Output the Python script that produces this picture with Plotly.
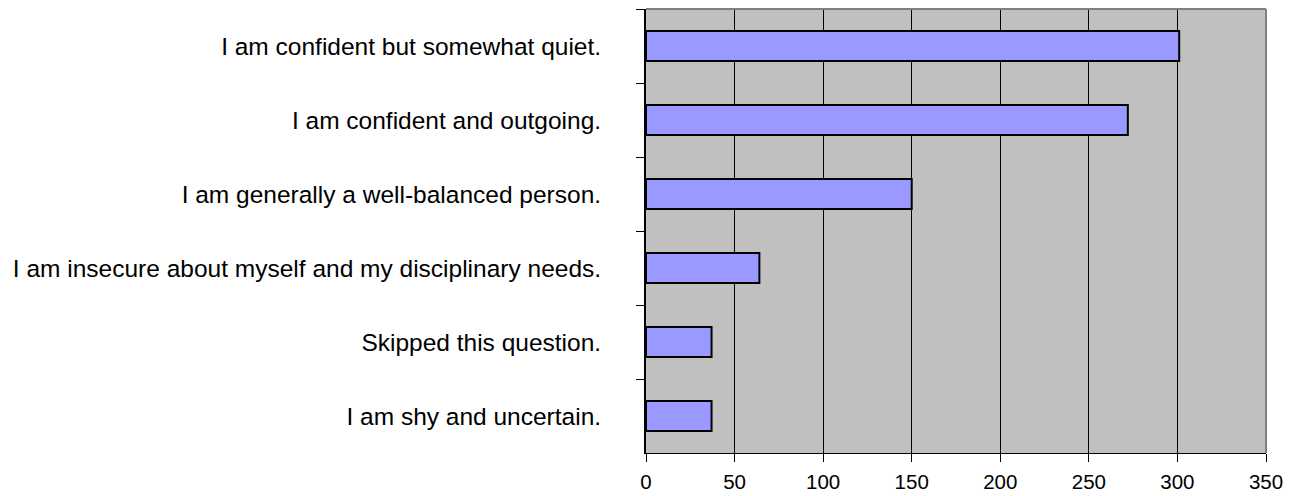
import plotly.graph_objects as go

categories = [
    "I am confident but somewhat quiet.",
    "I am confident and outgoing.",
    "I am generally a well-balanced person.",
    "I am insecure about myself and my disciplinary needs.",
    "Skipped this question.",
    "I am shy and uncertain.",
]
values = [301, 272, 150, 64, 37, 37]
x_ticks = [0, 50, 100, 150, 200, 250, 300, 350]

fig = go.Figure()
fig.add_trace(go.Bar(
    x=values,
    y=categories,
    orientation="h",
    marker=dict(color="#9999FF", line=dict(color="#000000", width=2)),
    hoverinfo="x+y",
))

yfont = dict(family="Liberation Sans, Arial, sans-serif", size=24.5, color="#000000")
xfont = dict(family="Liberation Sans, Arial, sans-serif", size=20.5, color="#000000")

fig.update_layout(
    width=1288,
    height=488,
    margin=dict(l=638, r=30, t=1, b=43, autoexpand=False),
    paper_bgcolor="#FFFFFF",
    plot_bgcolor="#C0C0C0",
    bargap=0.595,
    showlegend=False,
    font=xfont,
    xaxis=dict(
        range=[0, 350],
        tickvals=x_ticks,
        showgrid=True,
        gridcolor="#000000",
        gridwidth=1,
        zeroline=False,
        showline=True,
        linecolor="#000000",
        linewidth=1,
        ticks="outside",
        ticklen=8,
        tickcolor="#000000",
        tickfont=xfont,
        ticklabelstandoff=2,
        fixedrange=True,
    ),
    yaxis=dict(
        categoryorder="array",
        categoryarray=categories,
        autorange="reversed",
        showgrid=False,
        zeroline=False,
        showline=True,
        linecolor="#000000",
        linewidth=2,
        ticks="outside",
        tickson="boundaries",
        ticklen=8,
        tickcolor="#000000",
        tickfont=yfont,
        ticklabelstandoff=38,
        fixedrange=True,
    ),
    shapes=[
        dict(type="line", xref="paper", yref="paper", x0=0, x1=1, y0=1, y1=1,
             line=dict(color="#808080", width=2), layer="above"),
        dict(type="line", xref="paper", yref="paper", x0=1, x1=1, y0=0, y1=1,
             line=dict(color="#808080", width=2), layer="above"),
    ],
)

fig.write_html("out.html")
